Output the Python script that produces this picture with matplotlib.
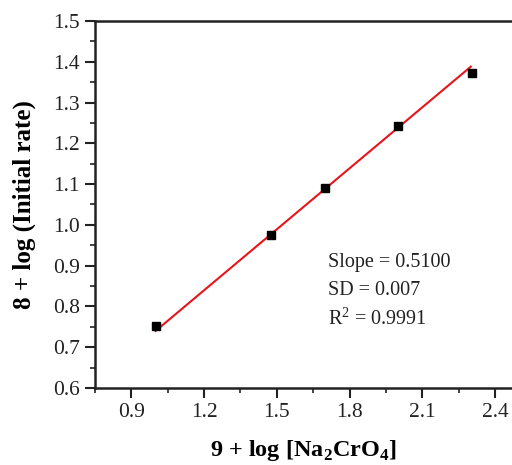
import matplotlib
matplotlib.use("Agg")
import matplotlib.pyplot as plt
from matplotlib.ticker import MultipleLocator

log_conc = [1.0, 1.475, 1.70, 2.0, 2.305]
log_rate = [0.752, 0.975, 1.091, 1.243, 1.372]
fit_x = [1.0, 2.3]
fit_y = [0.740, 1.388]
stats_lines = ["Slope = 0.5100", "SD = 0.007", "R$^2$ = 0.9991"]

plt.rcParams["font.family"] = ["Liberation Serif", "DejaVu Serif"]
plt.rcParams["mathtext.fontset"] = "custom"
plt.rcParams["mathtext.rm"] = "Liberation Serif"
plt.rcParams["mathtext.bf"] = "Liberation Serif:bold"

fig = plt.figure(figsize=(5.12, 4.65), dpi=100)
ax = fig.add_axes([95 / 512, 1 - 388 / 465, 1 - 95 / 512, (388 - 21) / 465])

# fitted line as drawn in the original figure
ax.plot(fit_x, fit_y, color="#e8141b", lw=1.5, zorder=2)
ax.plot(log_conc, log_rate, "s", color="black", ms=6, zorder=3)

ax.set_xlim(0.75, 2.47)
ax.set_ylim(0.6, 1.5)
ax.xaxis.set_major_locator(MultipleLocator(0.3))
ax.xaxis.set_minor_locator(MultipleLocator(0.15))
ax.yaxis.set_major_locator(MultipleLocator(0.1))
ax.yaxis.set_minor_locator(MultipleLocator(0.05))
ax.tick_params(which="major", direction="out", length=7, width=1.5, pad=4,
               labelsize=15.5, colors="#222222")
ax.tick_params(which="minor", direction="out", length=3.5, width=1.2, colors="#222222")
ax.spines["right"].set_visible(False)
for s in ["left", "bottom", "top"]:
    ax.spines[s].set_linewidth(1.8)
    ax.spines[s].set_color("#222222")

ax.set_xlabel("9 + log [Na$_\\mathbf{2}$CrO$_\\mathbf{4}$]", fontsize=17.5,
              fontweight="bold", labelpad=11)
ax.set_ylabel("8 + log (Initial rate)", fontsize=18, fontweight="bold", labelpad=12)

for i, line in enumerate(stats_lines):
    ax.text(1.71, 0.908 - i * 0.0686, line, fontsize=14.5, color="#222222", va="center")

fig.savefig("out.png", dpi=100)
